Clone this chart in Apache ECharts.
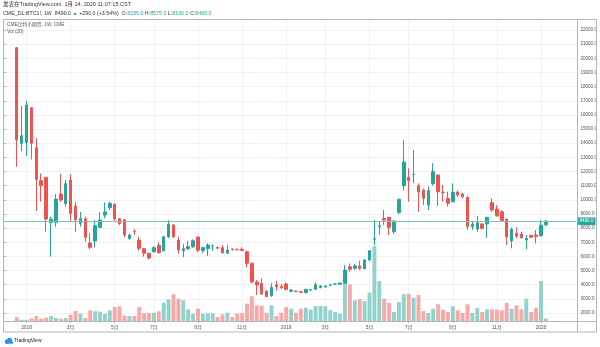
<!DOCTYPE html>
<html><head><meta charset="utf-8">
<script src="https://cdn.jsdelivr.net/npm/echarts@6/dist/echarts.min.js"></script>
<style>html,body{margin:0;padding:0;background:#fff}#c{width:600px;height:347px}</style>
</head><body><div id="c"></div>
<script>
// Weekly CME Bitcoin futures (BTC1!), first week starting 2017-12-18
const firstWeek = '2017-12-18';
const opens = [20750,13990,14040,16510,13680,11350,11590,8380,8410,10410,
9730,11400,9560,8340,8660,6950,7090,8050,8920,9440,
9680,8660,8590,7270,7760,7160,6540,6220,6330,6780,
6400,7390,8220,7160,6400,6540,6690,7370,6420,6550,
6730,6640,6620,6220,6520,6500,6500,6330,5510,4190,
4100,3550,3220,4000,3880,4050,3530,3540,3510,3440,
3620,3670,3810,3840,3970,4040,4030,4100,5270,5160,
5320,5130,5740,7210,8120,8690,8760,7750,9110,11000,
11590,11790,11000,10690,9630,11160,11750,10540,10100,9870,
10550,10410,10170,8100,7940,8290,8290,9800,9350,9160,
8620,7090,7630,7580,7160,7490,7510,7460,8235];
const closes = [14225,14530,16700,13990,11450,11000,8640,8640,10050,9990,
11140,9040,8570,8660,7350,6640,8170,8570,9140,9750,
8640,8310,7510,7510,7740,6570,6220,5890,6620,6260,
7390,8270,7390,6450,6540,6690,7110,6430,6620,6800,
6740,6580,6260,6450,6480,6470,6420,5510,4190,3980,
3340,3150,3810,3860,3790,3670,3620,3530,3460,3670,
3640,4000,3910,3910,3990,4050,4120,5040,5090,5340,
5130,5740,6400,7250,8160,8570,8050,8500,10030,12670,
11350,11810,10550,10100,10650,11990,10570,10520,9750,10530,
10340,10220,8100,8270,8380,7980,8760,9280,8860,8530,
7390,7910,7440,7320,7280,7350,7390,8200,8490];
const lows = [12340,13450,13100,12860,9210,9870,7750,5980,8100,9850,
9500,8450,7750,8100,7040,6500,6640,7990,8690,9280,
8450,8220,7350,7160,7510,6400,5980,5790,6260,6200,
6350,7300,7300,6200,5950,6450,6600,6300,6230,6030,
6400,6500,6200,6180,6420,6430,6380,5230,4100,3270,
3300,3140,3150,3580,3680,3600,3480,3470,3400,3390,
3580,3640,3740,3780,3900,3980,3990,4060,4930,5050,
5050,5100,5700,6800,7520,8220,7510,7580,9000,10650,
9870,11160,9160,9630,9280,11000,9560,9870,9520,9800,
10200,10100,7870,7870,7750,7900,7320,9150,8800,8450,
6810,6570,7280,7250,6500,7300,6920,7400,8100];
const highs = [20800,16630,16980,16550,14340,11870,11600,8800,10410,11820,
11400,11800,9870,9150,8800,7640,8570,9140,9800,9870,
9750,8700,8650,7630,7920,7390,6600,6250,6730,6970,
7450,8570,8300,7400,6870,7100,7200,7400,6680,6920,
6850,6700,6810,6810,6560,6540,6640,6400,5560,4330,
4450,3600,4100,4280,4050,4140,3700,3600,3560,3720,
3700,4150,3960,3990,4040,4100,4150,5390,5510,5450,
5690,5800,6450,8570,8450,9280,8800,8560,10100,14230,
12220,13520,11160,10800,10930,12580,11800,11050,10570,11160,
10650,10500,10250,8520,8850,8350,8800,10100,9630,9250,
8700,8050,8050,7750,7510,7520,7870,8570,8575];
// volume, thousand contracts (relative)
const volumes = [4,1.3,1.3,2.7,5,2.3,3.3,5,3,2.3,
3,6.3,10,7.3,3,10.7,9.7,9.3,7.3,10.7,
14,14.7,5.7,5,5,14,8,8,8.3,9.7,
18.3,21.7,26.7,22.3,20.7,11.7,7.3,12.3,7.3,7.7,
7.7,4,6.7,8.3,4,7.3,8,17.3,24.7,15.7,
15.3,8.3,15.7,5,8.3,14,12.3,8.3,12.3,13.3,
11.3,15,15,14.7,10.7,9,7.3,37,36.7,20.7,
22,20,28.3,75,40,22.3,18,9,19,26.7,
27.3,23.3,26,10,8,12.3,16.7,11.3,9,14.7,
10.7,8,16.7,8,13,9,11.7,11.7,11.3,10.7,
18,12.3,15.7,11.7,22.3,9,13.3,40,2.3];
const priceTicks = [2000,3000,4000,5000,6000,7000,8000,9000,10000,11000,12000,13000,14000,15000,16000,17000,18000,19000,20000,21000,22000];
const priceMin = 1435, priceMax = 22636;

const UP = '#26a69a', DOWN = '#ef5350';
const FONT = '"Liberation Sans","Noto Sans CJK SC",sans-serif';
const t0 = Date.parse(firstWeek + 'T00:00:00Z');
const dates = opens.map((_, i) => new Date(t0 + i * 7 * 86400000).toISOString().slice(0, 10));
function isLabel(i) {
  if (i === 0) return false;
  const m = +dates[i].slice(5, 7), pm = +dates[i - 1].slice(5, 7);
  return m !== pm && m % 2 === 1;
}
function fmt(v) { const m = +v.slice(5, 7); return m === 1 ? v.slice(0, 4) : m + '月'; }

const n = opens.length;
const lastO = opens[n-1], lastH = highs[n-1], lastL = lows[n-1], lastC = closes[n-1];
const chg = lastC - closes[n-2];
const pct = chg / closes[n-2] * 100;

const chart = echarts.init(document.getElementById('c'), null, {renderer: 'canvas'});
chart.setOption({
  animation: false,
  backgroundColor: '#fff',
  textStyle: {fontFamily: FONT},
  grid: [
    {left: 3, right: 23, top: 21, bottom: 26},
    {left: 14.25, right: 51.65, top: 21, bottom: 26},
    {left: 14.25, right: 51.65, top: 221, bottom: 26}
  ],
  xAxis: [
    {type: 'value', gridIndex: 0, min: 0, max: 1, show: false},
    {type: 'category', gridIndex: 1, data: dates, boundaryGap: true,
      axisLine: {show: false},
      axisTick: {show: true, interval: isLabel, alignWithLabel: true, length: 2, lineStyle: {color: '#b2b5be'}},
      axisLabel: {interval: isLabel, formatter: fmt, fontSize: 4.8, color: '#4c525e', margin: 4, fontFamily: FONT},
      splitLine: {show: true, interval: isLabel, alignWithLabel: true, lineStyle: {color: '#eef0f4', width: 1}}},
    {type: 'category', gridIndex: 2, data: dates, show: false}
  ],
  yAxis: [
    {type: 'value', gridIndex: 0, position: 'right', min: priceMin, max: priceMax,
      axisLine: {show: true, lineStyle: {color: '#b2b5be'}},
      axisTick: {show: true, customValues: priceTicks, length: 3, lineStyle: {color: '#b2b5be'}},
      axisLabel: {customValues: priceTicks, formatter: v => v.toFixed(1), fontSize: 4.6, color: '#4c525e', margin: 4, fontFamily: FONT},
      splitLine: {show: true, lineStyle: {color: '#eef0f4', width: 1}}},
    {type: 'value', gridIndex: 1, min: priceMin, max: priceMax, show: false},
    {type: 'value', gridIndex: 2, min: 0, max: 100, show: false}
  ],
  series: [
    {type: 'scatter', xAxisIndex: 0, yAxisIndex: 0, data: [], silent: true, z: 1,
      markLine: {symbol: ['none', 'none'], silent: true, animation: false,
        data: [{yAxis: lastC}],
        lineStyle: {color: '#7cc3bd', width: 1, type: 'solid'},
        label: {show: true, position: 'end', formatter: lastC.toFixed(1), color: '#fff', backgroundColor: UP,
          fontSize: 4.6, padding: [2, 2, 1, 2], distance: 1, fontFamily: FONT}}},
    {type: 'bar', xAxisIndex: 2, yAxisIndex: 2, silent: true, z: 2, barWidth: '80%',
      data: volumes.map((v, i) => ({value: v, itemStyle: {color: closes[i] >= opens[i] ? '#92d2cc' : '#f7a9a7'}}))},
    {type: 'candlestick', xAxisIndex: 1, yAxisIndex: 1, z: 3, barWidth: 3,
      data: opens.map((o, i) => [o, closes[i], lows[i], highs[i]]),
      itemStyle: {color: UP, color0: DOWN, borderColor: UP, borderColor0: DOWN, borderWidth: 1}}
  ],
  graphic: [
    {type: 'rect', z: 50, silent: true, shape: {x: 3.5, y: 19.5, width: 593, height: 312.5},
      style: {fill: 'none', stroke: '#b2b5be', lineWidth: 1}},
    {type: 'line', z: 50, silent: true, shape: {x1: 577.5, y1: 19.5, x2: 577.5, y2: 332}, style: {stroke: '#b2b5be', lineWidth: 1}},
    {type: 'line', z: 50, silent: true, shape: {x1: 3.5, y1: 321.5, x2: 596.5, y2: 321.5}, style: {stroke: '#b2b5be', lineWidth: 1}},
    {type: 'text', z: 60, x: 3, y: 2, style: {text: '发表在TradingView.com, 1月 14, 2020 11:07:15 CST', fontSize: 5.5, fontFamily: FONT, fill: '#333'}},
    {type: 'text', z: 60, x: 3, y: 11, style: {
      text: '{k|CME_DL:BTC1!, 1W  ' + lastC.toFixed(1) + ' }{u|▲}{k| +' + chg.toFixed(1) + ' (+' + pct.toFixed(2) + '%)  O:}{u|' + lastO.toFixed(1) +
        '}{k| H:}{u|' + lastH.toFixed(1) + '}{k| L:}{u|' + lastL.toFixed(1) + '}{k| C:}{u|' + lastC.toFixed(1) + '}',
      rich: {k: {fontSize: 5.3, fontFamily: FONT, fill: '#333', color: '#333'}, u: {fontSize: 5.3, fontFamily: FONT, fill: UP, color: UP}}}},
    {type: 'text', z: 60, x: 7, y: 22, style: {text: 'CME比特币期货, 1W, CME', fontSize: 4.8, fontFamily: FONT, fill: '#555'}},
    {type: 'text', z: 60, x: 7, y: 29, style: {text: 'Vol (20)', fontSize: 4.8, fontFamily: FONT, fill: '#555'}},
    {type: 'circle', z: 60, shape: {cx: 7, cy: 341.5, r: 2.2}, style: {fill: '#2196f3'}},
    {type: 'circle', z: 60, shape: {cx: 9.6, cy: 340.3, r: 2.6}, style: {fill: '#2196f3'}},
    {type: 'rect', z: 60, shape: {x: 5.5, y: 341.5, width: 7.5, height: 2.2}, style: {fill: '#2196f3'}},
    {type: 'text', z: 60, x: 14, y: 338.5, style: {text: 'TradingView', fontSize: 5, fontFamily: FONT, fill: '#131722'}}
  ]
});
</script></body></html>
